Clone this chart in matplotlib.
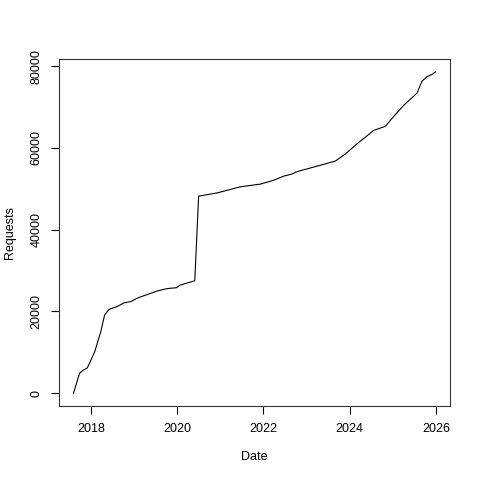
import numpy as np
import matplotlib
matplotlib.use("Agg")
import matplotlib.pyplot as plt

plt.rcParams['font.family'] = ['Liberation Sans', 'DejaVu Sans']

# decimal year vs cumulative requests
years = [2017.60, 2017.74, 2017.82, 2017.92, 2018.09, 2018.23, 2018.32, 2018.42,
         2018.61, 2018.77, 2018.92, 2019.11, 2019.54, 2019.77, 2019.98, 2020.08,
         2020.41, 2020.50, 2020.93, 2021.47, 2021.93, 2022.24, 2022.47, 2022.66,
         2022.78, 2023.09, 2023.40, 2023.67, 2023.90, 2024.17, 2024.56, 2024.83,
         2025.02, 2025.25, 2025.56, 2025.68, 2025.79, 2025.91, 2025.99]
requests = [0, 4900, 5600, 6200, 10100, 15000, 19100, 20500,
            21200, 22100, 22400, 23400, 25000, 25600, 25800, 26500,
            27500, 48200, 49000, 50500, 51150, 52100, 53100, 53600,
            54200, 55100, 56000, 56800, 58500, 61000, 64300, 65300,
            67700, 70400, 73400, 76400, 77400, 78000, 78600]
xticks = [2018, 2020, 2022, 2024, 2026]
yticks = [0, 20000, 40000, 60000, 80000]

fig = plt.figure(figsize=(4.8, 4.8), dpi=100)
ax = fig.add_axes([0.123, 0.154, 0.8145, 0.723])
ax.plot(years, requests, color='black', linewidth=0.8)

# R style 4% padding
xr = max(years) - min(years)
yr = max(requests) - min(requests)
ax.set_xlim(min(years) - 0.04 * xr, max(years) + 0.04 * xr)
ax.set_ylim(min(requests) - 0.04 * yr, max(requests) + 0.04 * yr)

ax.set_xticks(xticks)
ax.set_xticklabels([str(t) for t in xticks])
ax.set_yticks(yticks)
ax.set_yticklabels([str(t) for t in yticks], rotation=90, va='center')
ax.tick_params(direction='out', length=6, width=0.8, labelsize=9, pad=6)
for s in ax.spines.values():
    s.set_linewidth(0.8)
    s.set_color('#333333')

ax.set_xlabel('Date', fontsize=9, va='center')
ax.set_ylabel('Requests', fontsize=9, va='center')
ax.xaxis.set_label_coords(0.5, -0.147)
ax.yaxis.set_label_coords(-0.125, 0.5)

fig.savefig('out.png', dpi=100)
